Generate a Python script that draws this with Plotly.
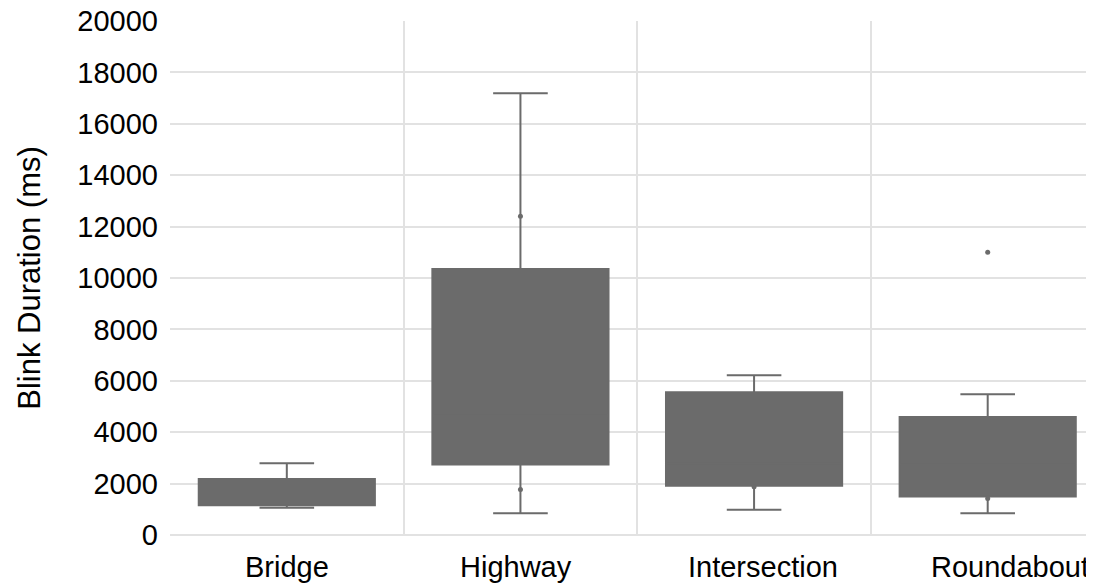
import plotly.graph_objects as go

categories = ["Bridge", "Highway", "Intersection", "Roundabout"]
lower_whisker = [1060, 842, 984, 842]
q1_values = [1153, 2745, 1916, 1502]
median_values = [1941, 4660, 2783, 2757]
q3_values = [2175, 10355, 5553, 4594]
upper_whisker = [2796, 17190, 6213, 5475]

point_categories = ["Highway", "Highway", "Intersection", "Roundabout", "Roundabout"]
point_values = [12400, 1774, 1876, 1424, 11000]

y_ticks = list(range(0, 20001, 2000))

GRAY = "#6b6b6b"
GRID = "#e2e2e2"
FONT = "Liberation Sans, Arial, Helvetica, sans-serif"
FS = 29
label_shift = [0, -4, 9, 22]

# the page body has an 8px margin; the figure is sized/offset to compensate
fig = go.Figure()
fig.add_trace(go.Box(
    x=categories,
    q1=q1_values,
    median=median_values,
    q3=q3_values,
    lowerfence=lower_whisker,
    upperfence=upper_whisker,
    fillcolor=GRAY,
    line=dict(color=GRAY, width=2),
    whiskerwidth=0.31,
    width=0.754,
    boxpoints=False,
    showlegend=False,
    hoverinfo="skip",
))
fig.add_trace(go.Scatter(
    x=point_categories,
    y=point_values,
    mode="markers",
    marker=dict(color=GRAY, size=5),
    showlegend=False,
    hoverinfo="skip",
))

for cat, dx in zip(categories, label_shift):
    fig.add_annotation(
        x=cat, xref="x", y=0, yref="paper",
        text=cat, showarrow=False,
        xanchor="center", yanchor="middle",
        xshift=dx, yshift=-32,
        font=dict(family=FONT, size=FS, color="black"),
    )

fig.update_layout(
    width=1086,
    height=578,
    margin=dict(l=162, r=0, t=13, b=51),
    paper_bgcolor="white",
    plot_bgcolor="white",
    font=dict(family=FONT, size=FS, color="black"),
)
fig.update_xaxes(
    type="category",
    categoryorder="array",
    categoryarray=categories,
    range=[-0.5, 3.455],
    tickson="boundaries",
    showgrid=True,
    gridcolor=GRID,
    gridwidth=1.5,
    ticks="",
    showline=False,
    zeroline=False,
    showticklabels=False,
    automargin=False,
)
fig.update_yaxes(
    range=[0, 20000],
    tickvals=y_ticks,
    ticktext=[str(v) for v in y_ticks],
    showgrid=True,
    gridcolor=GRID,
    gridwidth=1.5,
    zeroline=True,
    zerolinecolor=GRID,
    zerolinewidth=1.5,
    showline=False,
    ticks="",
    ticklabelstandoff=11,
    ticklabeloverflow="allow",
    automargin=False,
    tickfont=dict(family=FONT, size=FS, color="black"),
    title=dict(text="Blink Duration (ms)", font=dict(family=FONT, size=31, color="black"), standoff=27),
)

fig.write_html("out.html")
